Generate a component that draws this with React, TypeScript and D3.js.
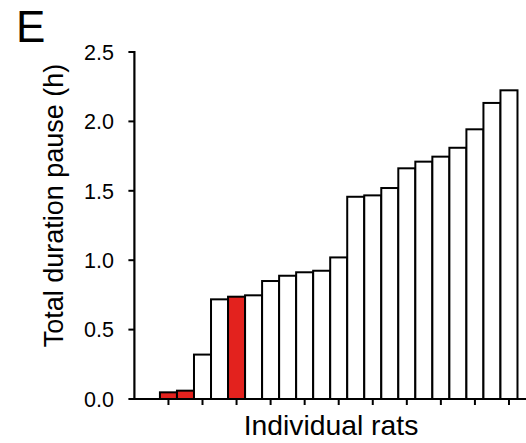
import React from "react";
import * as d3 from "d3";

const rats = d3.range(21).map((i) => `R${i + 1}`);
const durations = [0.048, 0.06, 0.32, 0.718, 0.737, 0.747, 0.85, 0.888, 0.913, 0.924, 1.02, 1.457, 1.467, 1.52, 1.662, 1.71, 1.746, 1.81, 1.943, 2.133, 2.224];
const highlighted = [true, true, false, false, true, false, false, false, false, false, false, false, false, false, false, false, false, false, false, false, false];
const yTicks = [0, 0.5, 1.0, 1.5, 2.0, 2.5];

export default function App() {
  const W = 526, H = 443;
  const x = d3.scaleLinear().domain([-1.5, 21.5]).range([134.4, 526]);
  const y = d3.scaleLinear().domain([0, 2.5]).range([399, 52]);
  const font = "'Liberation Sans', Arial, Helvetica, sans-serif";
  const xTickIdx = d3.range(0, 21, 2);
  return (
    <svg width={W} height={H} style={{ position: "absolute", left: 0, top: 0 }} fontFamily={font}>
      <rect x={0} y={0} width={W} height={H} fill="#fff" />
      <text x={16} y={42} fontSize={44}>E</text>
      {durations.map((v, i) => (
        <rect
          key={rats[i]}
          x={x(i)}
          y={y(v)}
          width={x(i + 1) - x(i)}
          height={y(0) - y(v)}
          fill={highlighted[i] ? "#e3221e" : "#fff"}
          stroke="#000"
          strokeWidth={2}
        />
      ))}
      {/* y axis */}
      <line x1={x(-1.5)} x2={x(-1.5)} y1={y(2.5) - 1} y2={y(0) + 1} stroke="#000" strokeWidth={2.2} />
      {yTicks.map((t) => (
        <g key={t}>
          <line x1={x(-1.5) - 6} x2={x(-1.5)} y1={y(t)} y2={y(t)} stroke="#000" strokeWidth={2} />
          <text x={114} y={y(t)} dy="0.36em" textAnchor="end" fontSize={21.5}>
            {t.toFixed(1)}
          </text>
        </g>
      ))}
      {/* x axis */}
      <line x1={x(-1.5) - 1} x2={x(21.5)} y1={y(0)} y2={y(0)} stroke="#000" strokeWidth={2.2} />
      {xTickIdx.map((i) => (
        <line key={i} x1={x(i + 0.5)} x2={x(i + 0.5)} y1={y(0)} y2={y(0) + 6} stroke="#000" strokeWidth={2} />
      ))}
      <text x={331} y={435} textAnchor="middle" fontSize={28.3}>Individual rats</text>
      <text transform={`translate(63,205.5) rotate(-90)`} textAnchor="middle" fontSize={27}>
        Total duration pause (h)
      </text>
    </svg>
  );
}
